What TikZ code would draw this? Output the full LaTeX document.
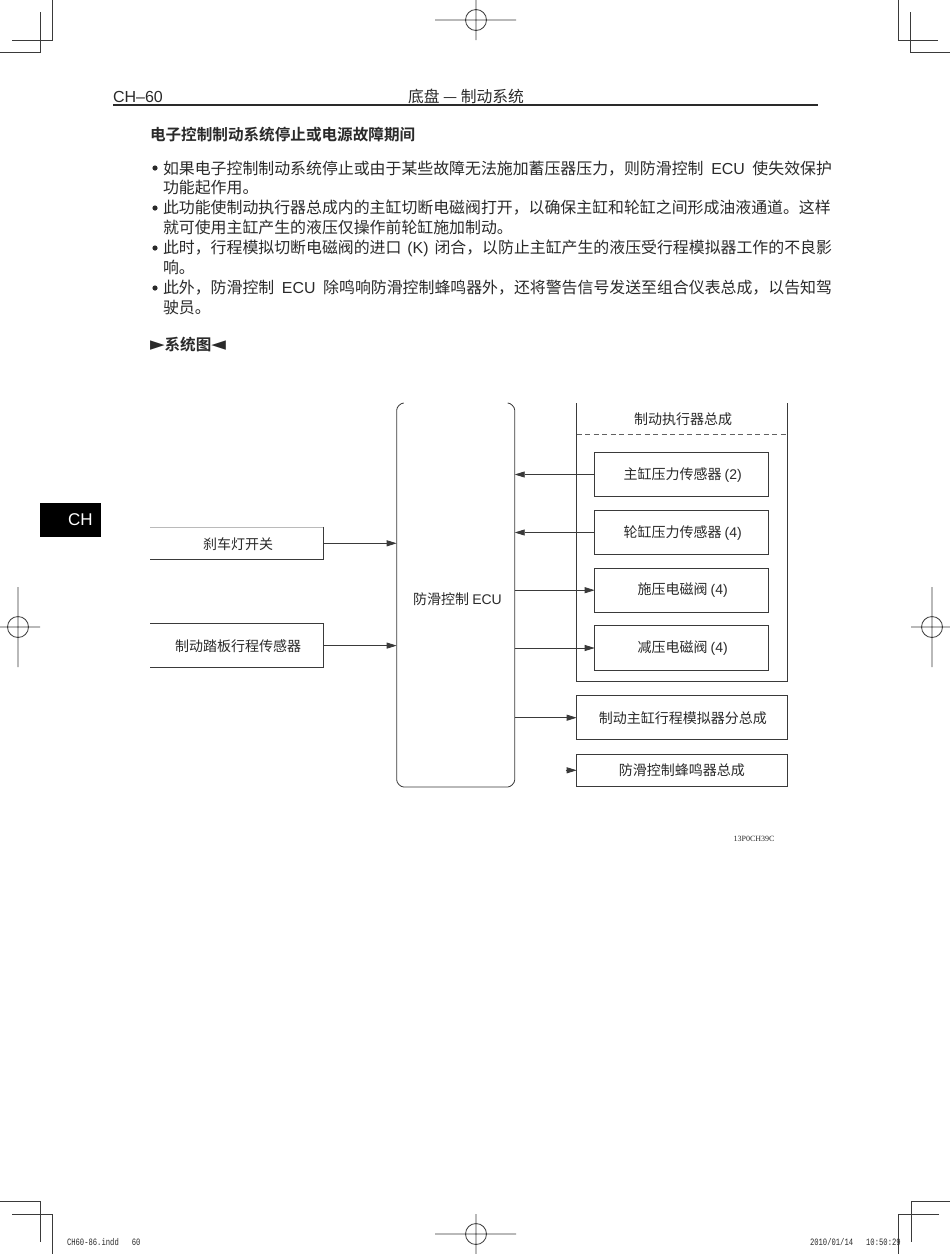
\documentclass[tikz,border=0pt]{standalone}
\usepackage{fontspec}
\usetikzlibrary{arrows.meta}
\setmainfont{Noto Sans CJK SC}[BoldFont={Noto Sans CJK SC Bold}]
\newfontfamily\cjk{Noto Sans CJK SC}[BoldFont={Noto Sans CJK SC Bold}]
\newfontfamily\lat{Liberation Sans}
\newfontfamily\slugfont{Liberation Mono}
\newfontfamily\codefont{Liberation Serif}
\newfontfamily\symfont{DejaVu Sans}
\XeTeXlinebreaklocale "zh"
\XeTeXlinebreakskip=0pt plus 1pt
\definecolor{ink}{HTML}{2A2A2A}
\definecolor{lineink}{HTML}{3A3A3A}
\newcommand{\fullline}[1]{\makebox[669pt][s]{#1}}
\newcommand{\tallslug}[1]{\scalebox{1}[1.35]{#1}}
\tikzset{
  x=1pt,y=-1pt,
  every node/.style={inner sep=0pt,outer sep=0pt,text=ink},
  bodyline/.style={anchor=base west,font=\cjk\fontsize{15.9}{18}\selectfont},
  lbl/.style={font=\cjk\fontsize{14}{16}\selectfont},
  wire/.style={draw=lineink,line width=0.8pt},
  sig/.style={wire,-{Triangle[length=10pt,width=6pt]}},
  crop/.style={draw=lineink,line width=0.8pt},
  ibox/.style={draw=lineink,line width=0.8pt,minimum width=174pt,minimum height=44.3pt,font=\cjk\fontsize{14}{16}\selectfont},
  obox/.style={draw=lineink,line width=0.8pt,minimum width=210.3pt,font=\cjk\fontsize{14}{16}\selectfont},
}
\begin{document}
\begin{tikzpicture}
\useasboundingbox (0,0) rectangle (950,1254);
\fill[white] (0,0) rectangle (950,1254);
% crop marks
\draw[crop] (52,0)--(52,40)--(12,40) (40,12)--(40,52)--(0,52);
\draw[crop] (898,0)--(898,40)--(938,40) (910,12)--(910,52)--(950,52);
\draw[crop] (0,1201)--(40,1201)--(40,1242) (12,1214)--(52,1214)--(52,1254);
\draw[crop] (950,1201)--(911,1201)--(911,1242) (939,1214)--(898,1214)--(898,1254);
% registration marks
\draw[crop] (435,20)--(516,20) (476,0)--(476,40) (476,20) circle[radius=10.5];
\draw[crop] (435,1234)--(516,1234) (476,1214)--(476,1254) (476,1234) circle[radius=10.5];
\draw[crop] (0,627)--(40,627) (18,587)--(18,667) (18,627) circle[radius=10.5];
\draw[crop] (911,627)--(950,627) (932,587)--(932,667) (932,627) circle[radius=10.5];
% header
\node[anchor=base west,font=\lat\fontsize{16}{20}\selectfont] (chap) at (113,102) {CH–60};
\node[anchor=base,font=\cjk\fontsize{15.8}{18}\selectfont] (head) at (466,102) {底盘 — 制动系统};
\draw[draw=ink,line width=2pt] (113,105.3)--(818,105.3);
% side tab
\node[fill=black,minimum width=61pt,minimum height=34pt,text=white,font=\lat\fontsize{17}{20}\selectfont] (tab) at (70.5,520) {\textcolor{white}{\hspace{20pt}CH}};
% body
\node[anchor=base west,font=\cjk\bfseries\fontsize{15.6}{18}\selectfont] (title) at (150,140.5) {电子控制制动系统停止或电源故障期间};
\foreach \y in {168,208,248,288}{\fill[ink] (155,\y) circle[radius=2.6];}
\node[bodyline] (l1) at (163,174) {\fullline{如果电子控制制动系统停止或由于某些故障无法施加蓄压器压力，则防滑控制 {\lat ECU} 使失效保护}};
\node[bodyline] (l2) at (163,193.5) {功能起作用。};
\node[bodyline] (l3) at (163,213.5) {\fullline{此功能使制动执行器总成内的主缸切断电磁阀打开，以确保主缸和轮缸之间形成油液通道。这样}};
\node[bodyline] (l4) at (163,233) {就可使用主缸产生的液压仅操作前轮缸施加制动。};
\node[bodyline] (l5) at (163,253) {\fullline{此时，行程模拟切断电磁阀的进口 {\lat (K)} 闭合，以防止主缸产生的液压受行程模拟器工作的不良影}};
\node[bodyline] (l6) at (163,273) {响。};
\node[bodyline] (l7) at (163,293.5) {\fullline{此外，防滑控制 {\lat ECU} 除鸣响防滑控制蜂鸣器外，还将警告信号发送至组合仪表总成，以告知驾}};
\node[bodyline] (l8) at (163,313) {驶员。};
\node[anchor=base west,font=\cjk\bfseries\fontsize{15.6}{18}\selectfont] (sys) at (150,350) {{\symfont\fontsize{19}{20}\selectfont ►}系统图{\symfont\fontsize{19}{20}\selectfont ◄}};
% ECU
\node[minimum width=118pt,minimum height=384pt,font=\cjk\fontsize{14}{16}\selectfont] (ecu) at (455.7,595) {};
\node[font=\cjk\fontsize{14}{16}\selectfont] (ecutext) at (457.5,599) {防滑控制 {\lat ECU}};
\draw[wire] ([xshift=7pt]ecu.north west) to[out=180,in=90,looseness=0.8] ([yshift=-7pt]ecu.north west)
  -- ([yshift=7pt]ecu.south west) to[out=-90,in=180,looseness=0.8] ([xshift=7pt]ecu.south west)
  -- ([xshift=-7pt]ecu.south east) to[out=0,in=-90,looseness=0.8] ([yshift=7pt]ecu.south east)
  -- ([yshift=-7pt]ecu.north east) to[out=90,in=0,looseness=0.8] ([xshift=-7pt]ecu.north east);
% left inputs
\node[minimum width=173.3pt,minimum height=32.8pt,lbl] (stop) at (236.7,543.2) {};
\node[lbl] (stoptext) at (238,544.5) {刹车灯开关};
\draw[draw=lineink!35,line width=0.5pt] (stop.north west)--(stop.north east);
\draw[wire] (stop.north east)--(stop.south east)--(stop.south west);
\node[minimum width=173.3pt,minimum height=44.4pt,lbl] (pedal) at (236.7,645.6) {};
\node[lbl] (pedaltext) at (238,646) {制动踏板行程传感器};
\draw[wire] (pedal.north west)--(pedal.north east)--(pedal.south east)--(pedal.south west);
\draw[sig] (stop.east |- 0,543.3) -- (ecu.west |- 0,543.3);
\draw[sig] (pedal.east) -- (ecu.west |- pedal.east);
% actuator
\coordinate (actnw) at (576.7,403);
\coordinate (actne) at (787,403);
\coordinate (actsw) at (576.7,681);
\coordinate (actse) at (787,681);
\draw[wire] (actnw)--(actsw)--(actse)--(actne);
\coordinate (dashl) at (576.7,434.3);
\coordinate (dashr) at (787,434.3);
\draw[draw=lineink!80,line width=0.6pt,dash pattern=on 5pt off 3.5pt] (dashl)--(dashr);
\node[lbl] (acttext) at (683,419) {制动执行器总成};
\node[ibox] (mc) at (681.7,474.5) {\hspace{2pt}主缸压力传感器 {\lat (2)}};
\node[ibox] (wc) at (681.7,532.5) {\hspace{2pt}轮缸压力传感器 {\lat (4)}};
\node[ibox] (av) at (681.7,590.2) {\hspace{2pt}施压电磁阀 {\lat (4)}};
\node[ibox] (rv) at (681.7,648) {\hspace{2pt}减压电磁阀 {\lat (4)}};
\draw[sig] (mc.west) -- (ecu.east |- mc.west);
\draw[sig] (wc.west) -- (ecu.east |- wc.west);
\draw[sig] (ecu.east |- av.west) -- (av.west);
\draw[sig] (ecu.east |- rv.west) -- (rv.west);
\node[obox,minimum height=44pt] (sim) at (681.85,717.7) {\hspace{2pt}制动主缸行程模拟器分总成};
\node[obox,minimum height=32.7pt] (buzz) at (681.85,770.3) {防滑控制蜂鸣器总成};
\draw[sig] (ecu.east |- sim.west) -- (sim.west);
\coordinate (buzzstub) at (565.7,770.3);
\draw[sig] (buzzstub) -- (buzz.west);
% codes
\node[anchor=base,font=\codefont\fontsize{8}{9}\selectfont] (code) at (754,841) {13P0CH39C};
\node[anchor=base west,font=\slugfont\fontsize{7.2}{9}\selectfont] (slugl) at (67,1245.5) {\tallslug{CH60-86.indd\ \ \ 60}};
\node[anchor=base west,font=\slugfont\fontsize{7.2}{9}\selectfont] (slugr) at (810,1245.5) {\tallslug{2010/01/14\ \ \ 10:50:29}};
\end{tikzpicture}
\end{document}
